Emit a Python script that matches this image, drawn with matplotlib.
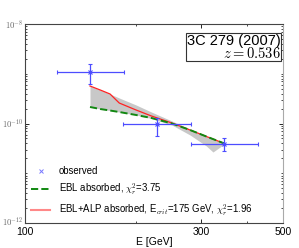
import numpy as np
import matplotlib
matplotlib.use('Agg')
from matplotlib import pyplot as plt
from matplotlib import transforms
from matplotlib.lines import Line2D
from matplotlib.ticker import FixedLocator, NullFormatter, LogLocator

plt.rcParams['font.family'] = ['Liberation Sans', 'DejaVu Sans']
plt.rcParams['mathtext.fontset'] = 'cm'

# Observed points (E in GeV, flux)
obs_e = [150., 228., 347.]
obs_e_lo = [122., 184., 282.]
obs_e_hi = [185., 282., 428.]
obs_f = [1.08e-9, 9.8e-11, 3.87e-11]
obs_f_lo = [6.2e-10, 5.7e-11, 2.84e-11]
obs_f_hi = [1.57e-9, 1.31e-10, 5.04e-11]

# Model curves (log10 flux)
model_e = [150., 160., 170., 180., 200., 220., 250., 280., 310., 347.]
ebl_log = [-9.668, -9.709, -9.739, -9.769, -9.829, -9.889, -10.000, -10.131, -10.261, -10.402]
alp_log = [-9.246, -9.327, -9.407, -9.588, -9.729, -9.849, -9.990, -10.131, -10.261, -10.402]

# Uncertainty band (log10 flux)
band_e = [150., 160., 170., 180., 200., 220., 250., 280., 310., 323., 347.]
band_lo = [-9.668, -9.709, -9.739, -9.769, -9.829, -9.899, -10.030, -10.231, -10.452, -10.573, -10.412]
band_hi = [-9.246, -9.327, -9.407, -9.487, -9.628, -9.769, -9.950, -10.111, -10.251, -10.312, -10.392]

fig = plt.figure(figsize=(2.99, 2.48), dpi=100)
ax = fig.add_axes([0.0836, 0.1008, 0.8629, 0.8024])

ax.fill_between(band_e, 10 ** np.array(band_lo), 10 ** np.array(band_hi), color='#c8c8c8', lw=0, zorder=1)

e = np.array(obs_e)
f = np.array(obs_f)
xerr = [e - np.array(obs_e_lo), np.array(obs_e_hi) - e]
yerr = [f - np.array(obs_f_lo), np.array(obs_f_hi) - f]
ax.errorbar(e, f, xerr=xerr, yerr=yerr, fmt='x', color='#4d4dff', ms=2.5, mew=0.8,
            elinewidth=0.9, capsize=1.5, capthick=0.8, zorder=4)

ebl, = ax.plot(model_e, 10 ** np.array(ebl_log), '--', color='#118811', lw=1.4, zorder=3,
               label=r'EBL absorbed, $\chi_r^2$=3.75')
alp, = ax.plot(model_e, 10 ** np.array(alp_log), '-', color='#ff2222', lw=0.9, zorder=2,
               label=r'EBL+ALP absorbed, E$_{crit}$=175 GeV, $\chi_r^2$=1.96')

ax.set_xscale('log')
ax.set_yscale('log')
ax.set_xlim(100, 500)
ax.set_ylim(1e-12, 1e-8)

ax.xaxis.set_major_locator(FixedLocator([100, 300, 500]))
ax.xaxis.set_minor_locator(FixedLocator([200, 400]))
ax.xaxis.set_minor_formatter(NullFormatter())
ax.set_xticklabels(['100', '300', '500'])
ax.yaxis.set_major_locator(FixedLocator([1e-12, 1e-10, 1e-8]))
ax.yaxis.set_minor_locator(LogLocator(base=10, subs=np.arange(1, 10), numticks=20))
ax.yaxis.set_minor_formatter(NullFormatter())
ax.set_yticklabels([r'$10^{-12}$', r'$10^{-10}$', r'$10^{-8}$'])

ax.tick_params(which='both', direction='in', top=True, right=True)
ax.tick_params(axis='x', labelsize=7.5, pad=3.2)
ax.tick_params(axis='y', labelsize=6.2, pad=1, labelcolor='#666666')
ax.tick_params(which='major', length=3, width=0.6)
ax.tick_params(which='minor', length=1.5, width=0.5)
for s in ax.spines.values():
    s.set_color('#444444')
    s.set_linewidth(0.8)
ax.spines['right'].set_color('#aaaaaa')

# nudge the bottom y label up a little so it clears the "100" label
lab = ax.get_yticklabels()[0]
lab.set_transform(lab.get_transform() + transforms.ScaledTranslation(0, 1.5 / 72, fig.dpi_scale_trans))

ax.set_xlabel('E [GeV]', fontsize=7.5, labelpad=0)

ax.text(0.99, 0.95, '3C 279 (2007)\n' + r'$z = 0.536$', transform=ax.transAxes,
        ha='right', va='top', fontsize=10.5, linespacing=0.8, multialignment='right',
        bbox=dict(boxstyle='square,pad=0.05', fc='white', ec='#333333', lw=0.8))

obs_handle = Line2D([], [], ls='none', marker='x', color='#7777ff', ms=2.5, mew=0.7)
alp_handle = Line2D([], [], color='#ff8888', lw=1.5)
ax.legend([obs_handle, ebl, alp_handle],
          ['observed', ebl.get_label(), alp.get_label()],
          loc='lower left', bbox_to_anchor=(0.005, 0.0), frameon=False, fontsize=6.9,
          handlelength=2.0, handletextpad=0.9, labelspacing=0.55, borderaxespad=0.1)

plt.savefig('out.png', dpi=100)
